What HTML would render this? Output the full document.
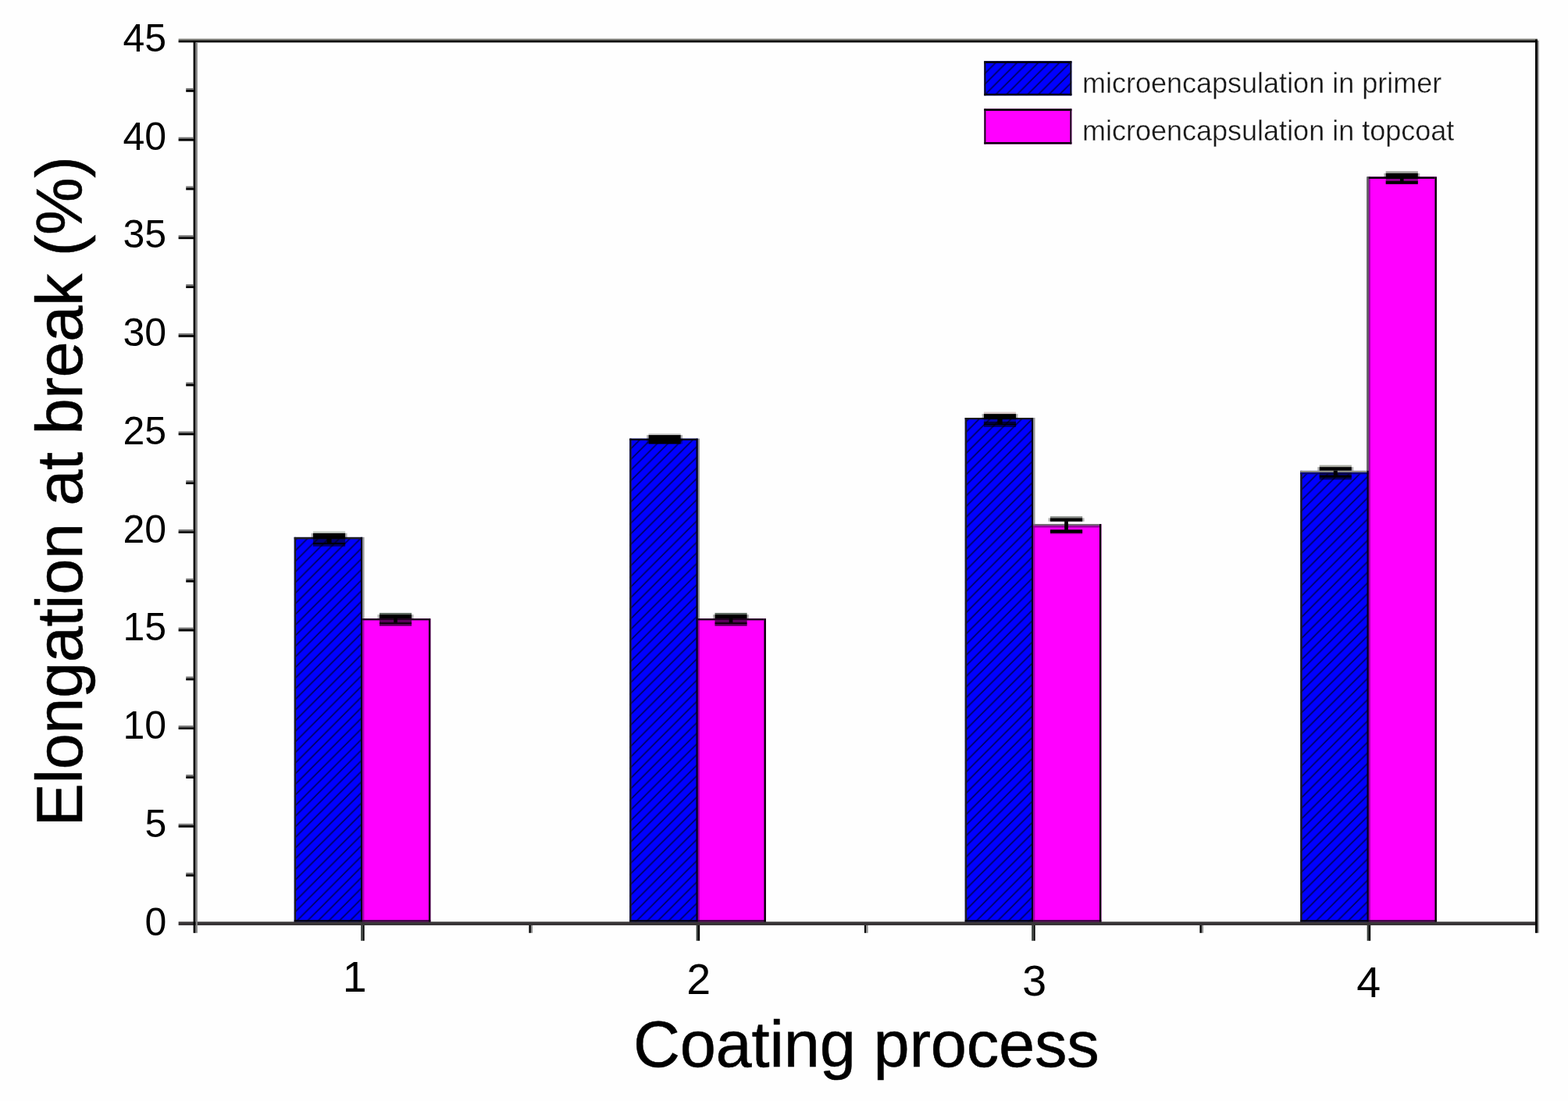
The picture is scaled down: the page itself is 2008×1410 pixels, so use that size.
<!DOCTYPE html>
<html lang="en"><head><meta charset="utf-8"><title>Elongation at break vs coating process</title>
<style>
html,body{margin:0;padding:0;background:#fefefe;}
body{width:2008px;height:1410px;overflow:hidden;}
svg{display:block;font-family:"Liberation Sans",sans-serif;}
.tk{font-size:50px;fill:#000;}
.xk{font-size:55.5px;fill:#000;}
.lg{font-size:36px;fill:#181818;stroke:#fefefe;stroke-width:0.35px;paint-order:fill stroke;}
.ti{font-size:83px;fill:#000;letter-spacing:-0.4px;stroke:#000;stroke-width:0.5px;}
</style></head><body>
<svg width="2008" height="1410" viewBox="0 0 2008 1410" style="filter:blur(0.45px)">
<defs>
<pattern id="hatch" patternUnits="userSpaceOnUse" x="0" y="0" width="13.6" height="13.6">
<rect width="13.6" height="13.6" fill="#0000ff"/>
<path d="M-3,12 L12,-3 M6,16.6 L16.6,6" stroke="#000028" stroke-opacity="0.75" stroke-width="1.7" fill="none"/>
</pattern>
</defs>
<rect width="2008" height="1410" fill="#fefefe"/>

<g id="bars">
<rect x="376.75" y="687.90" width="87.50" height="494.90" fill="url(#hatch)"/>
<rect x="464.25" y="792.10" width="87.10" height="390.70" fill="#ff00ff"/>
<rect x="376.75" y="687.90" width="2.40" height="494.90" fill="#1c1c1c"/>
<rect x="376.75" y="687.90" width="87.50" height="2.60" fill="#222"/>
<rect x="461.95" y="687.90" width="2.40" height="494.90" fill="#00001c"/>
<rect x="464.35" y="687.90" width="2.20" height="104.20" fill="#9a9a9a"/>
<rect x="464.35" y="792.10" width="2.00" height="390.70" fill="#a000a8"/>
<rect x="376.75" y="1178.20" width="87.50" height="2.40" fill="#00000c"/>
<rect x="464.25" y="1178.20" width="87.10" height="2.40" fill="#3a0040"/>
<rect x="464.25" y="792.10" width="84.70" height="2.30" fill="#1a001a"/>
<rect x="548.95" y="792.10" width="2.40" height="390.70" fill="#000"/>
<rect x="806.25" y="561.70" width="87.50" height="621.10" fill="url(#hatch)"/>
<rect x="893.75" y="792.10" width="87.10" height="390.70" fill="#ff00ff"/>
<rect x="806.25" y="561.70" width="2.40" height="621.10" fill="#1c1c1c"/>
<rect x="806.25" y="561.70" width="87.50" height="2.30" fill="#050505"/>
<rect x="891.45" y="561.70" width="2.40" height="621.10" fill="#00001c"/>
<rect x="893.85" y="561.70" width="2.20" height="230.40" fill="#9a9a9a"/>
<rect x="893.85" y="792.10" width="2.00" height="390.70" fill="#a000a8"/>
<rect x="806.25" y="1178.20" width="87.50" height="2.40" fill="#00000c"/>
<rect x="893.75" y="1178.20" width="87.10" height="2.40" fill="#3a0040"/>
<rect x="893.75" y="792.10" width="84.70" height="2.30" fill="#1a001a"/>
<rect x="978.45" y="792.10" width="2.40" height="390.70" fill="#000"/>
<rect x="1235.75" y="535.00" width="87.50" height="647.80" fill="url(#hatch)"/>
<rect x="1323.25" y="671.10" width="87.10" height="511.70" fill="#ff00ff"/>
<rect x="1235.75" y="535.00" width="2.40" height="647.80" fill="#1c1c1c"/>
<rect x="1235.75" y="535.00" width="87.50" height="2.20" fill="#1a1a10"/>
<rect x="1320.95" y="535.00" width="2.40" height="647.80" fill="#00001c"/>
<rect x="1323.35" y="535.00" width="2.20" height="136.10" fill="#9a9a9a"/>
<rect x="1323.35" y="671.10" width="2.00" height="511.70" fill="#a000a8"/>
<rect x="1235.75" y="1178.20" width="87.50" height="2.40" fill="#00000c"/>
<rect x="1323.25" y="1178.20" width="87.10" height="2.40" fill="#3a0040"/>
<rect x="1323.25" y="671.10" width="84.70" height="2.10" fill="#6f736f"/>
<rect x="1323.25" y="673.20" width="84.70" height="2.30" fill="#8c0094"/>
<rect x="1407.95" y="671.10" width="2.40" height="511.70" fill="#000"/>
<rect x="1665.25" y="602.90" width="87.50" height="579.90" fill="url(#hatch)"/>
<rect x="1752.75" y="226.40" width="87.10" height="956.40" fill="#ff00ff"/>
<rect x="1665.25" y="602.90" width="2.40" height="579.90" fill="#1c1c1c"/>
<rect x="1665.25" y="602.90" width="87.50" height="2.20" fill="#8a8c84"/>
<rect x="1665.25" y="605.10" width="87.50" height="2.20" fill="#000078"/>
<rect x="1750.45" y="226.40" width="2.40" height="956.40" fill="#00001c"/>
<rect x="1750.45" y="226.40" width="2.40" height="376.50" fill="#666"/>
<rect x="1752.85" y="226.40" width="2.00" height="956.40" fill="#a000a8"/>
<rect x="1665.25" y="1178.20" width="87.50" height="2.40" fill="#00000c"/>
<rect x="1752.75" y="1178.20" width="87.10" height="2.40" fill="#3a0040"/>
<rect x="1752.75" y="226.40" width="84.70" height="2.50" fill="#000"/>
<rect x="1837.45" y="226.40" width="2.40" height="956.40" fill="#000"/>
</g>
<g id="errorbars">
<rect x="400.95" y="680.30" width="41.20" height="2.50" fill="#c8d0c8"/>
<rect x="400.95" y="682.80" width="41.20" height="7.40" fill="#000"/>
<rect x="400.95" y="690.20" width="41.20" height="4.80" fill="#000" fill-opacity="0.55"/>
<rect x="400.95" y="695.00" width="41.20" height="2.40" fill="#000"/>
<rect x="400.95" y="697.40" width="41.20" height="2.40" fill="#000" fill-opacity="0.6"/>
<rect x="398.55" y="682.80" width="2.40" height="7.40" fill="#000" fill-opacity="0.3"/>
<rect x="442.15" y="682.80" width="2.40" height="7.40" fill="#000" fill-opacity="0.3"/>
<rect x="418.55" y="690.00" width="6.00" height="5.50" fill="#000"/>
<rect x="485.95" y="784.90" width="41.20" height="2.20" fill="#5c6a60"/>
<rect x="485.95" y="787.10" width="41.20" height="5.10" fill="#000"/>
<rect x="485.95" y="794.40" width="41.20" height="2.70" fill="#000" fill-opacity="0.65"/>
<rect x="485.95" y="797.10" width="41.20" height="2.20" fill="#000"/>
<rect x="485.95" y="799.30" width="41.20" height="2.30" fill="#000" fill-opacity="0.7"/>
<rect x="483.55" y="787.10" width="2.40" height="5.10" fill="#000" fill-opacity="0.3"/>
<rect x="527.15" y="787.10" width="2.40" height="5.10" fill="#000" fill-opacity="0.3"/>
<rect x="504.25" y="792.00" width="4.60" height="5.50" fill="#000"/>
<rect x="830.55" y="555.00" width="41.20" height="2.10" fill="#d0d0d0"/>
<rect x="830.55" y="557.10" width="41.20" height="11.50" fill="#000"/>
<rect x="828.15" y="557.10" width="2.40" height="11.50" fill="#000" fill-opacity="0.3"/>
<rect x="871.75" y="557.10" width="2.40" height="11.50" fill="#000" fill-opacity="0.3"/>
<rect x="915.45" y="784.90" width="41.20" height="2.20" fill="#5c6a60"/>
<rect x="915.45" y="787.10" width="41.20" height="5.10" fill="#000"/>
<rect x="915.45" y="794.40" width="41.20" height="2.70" fill="#000" fill-opacity="0.65"/>
<rect x="915.45" y="797.10" width="41.20" height="2.20" fill="#000"/>
<rect x="915.45" y="799.30" width="41.20" height="2.30" fill="#000" fill-opacity="0.7"/>
<rect x="913.05" y="787.10" width="2.40" height="5.10" fill="#000" fill-opacity="0.3"/>
<rect x="956.65" y="787.10" width="2.40" height="5.10" fill="#000" fill-opacity="0.3"/>
<rect x="933.75" y="792.00" width="4.60" height="5.50" fill="#000"/>
<rect x="1259.90" y="527.60" width="41.20" height="2.50" fill="#d8c8c8"/>
<rect x="1259.90" y="530.10" width="41.20" height="6.90" fill="#000"/>
<rect x="1259.90" y="537.40" width="41.20" height="2.60" fill="#000" fill-opacity="0.3"/>
<rect x="1259.90" y="540.00" width="41.20" height="2.30" fill="#000" fill-opacity="0.75"/>
<rect x="1259.90" y="542.30" width="41.20" height="2.10" fill="#000"/>
<rect x="1259.90" y="544.40" width="41.20" height="2.40" fill="#000" fill-opacity="0.65"/>
<rect x="1257.50" y="530.10" width="2.40" height="6.90" fill="#000" fill-opacity="0.3"/>
<rect x="1301.10" y="530.10" width="2.40" height="6.90" fill="#000" fill-opacity="0.3"/>
<rect x="1277.40" y="537.00" width="6.20" height="6.00" fill="#000"/>
<rect x="1344.95" y="661.20" width="41.20" height="2.20" fill="#8a8f8a"/>
<rect x="1344.95" y="663.40" width="41.20" height="4.50" fill="#000"/>
<rect x="1344.95" y="678.30" width="41.20" height="4.50" fill="#000"/>
<rect x="1344.95" y="682.80" width="41.20" height="1.40" fill="#000" fill-opacity="0.25"/>
<rect x="1342.55" y="663.40" width="2.40" height="4.50" fill="#000" fill-opacity="0.3"/>
<rect x="1386.15" y="663.40" width="2.40" height="4.50" fill="#000" fill-opacity="0.3"/>
<rect x="1363.15" y="667.50" width="4.80" height="11.30" fill="#000"/>
<rect x="1689.65" y="595.60" width="41.20" height="2.50" fill="#a8aaa0"/>
<rect x="1689.65" y="598.10" width="41.20" height="4.60" fill="#000"/>
<rect x="1689.65" y="605.20" width="41.20" height="3.10" fill="#000" fill-opacity="0.45"/>
<rect x="1689.65" y="608.30" width="41.20" height="3.50" fill="#000"/>
<rect x="1689.65" y="611.80" width="41.20" height="2.50" fill="#000" fill-opacity="0.6"/>
<rect x="1687.25" y="598.10" width="2.40" height="4.60" fill="#000" fill-opacity="0.3"/>
<rect x="1730.85" y="598.10" width="2.40" height="4.60" fill="#000" fill-opacity="0.3"/>
<rect x="1707.75" y="602.50" width="5.00" height="6.30" fill="#000"/>
<rect x="1774.65" y="219.30" width="41.20" height="2.60" fill="#9a9e98"/>
<rect x="1774.65" y="221.90" width="41.20" height="7.00" fill="#000"/>
<rect x="1774.65" y="228.90" width="41.20" height="2.70" fill="#000" fill-opacity="0.45"/>
<rect x="1774.65" y="231.60" width="41.20" height="4.20" fill="#000"/>
<rect x="1772.25" y="221.90" width="2.40" height="7.00" fill="#000" fill-opacity="0.3"/>
<rect x="1815.85" y="221.90" width="2.40" height="7.00" fill="#000" fill-opacity="0.3"/>
<rect x="1792.95" y="228.00" width="4.60" height="4.00" fill="#000"/>
</g>
<g id="axes">
<rect x="228.60" y="49.60" width="1740.30" height="2.40" fill="#7c7c76"/>
<rect x="228.60" y="51.80" width="1740.30" height="2.60" fill="#000"/>
<rect x="228.60" y="1180.40" width="1740.30" height="4.60" fill="#383436"/>
<rect x="247.60" y="52.00" width="3.00" height="1142.80" fill="#000"/>
<rect x="250.60" y="54.30" width="2.30" height="1140.50" fill="#858585"/>
<rect x="1966.00" y="50.50" width="3.00" height="1144.30" fill="#000"/>
<rect x="1969.00" y="52.00" width="1.80" height="1142.80" fill="#959595"/>
<rect x="228.60" y="1054.81" width="19.40" height="2.40" fill="#767676"/>
<rect x="228.60" y="1057.01" width="19.40" height="2.70" fill="#000"/>
<rect x="228.60" y="929.22" width="19.40" height="2.40" fill="#767676"/>
<rect x="228.60" y="931.42" width="19.40" height="2.70" fill="#000"/>
<rect x="228.60" y="803.63" width="19.40" height="2.40" fill="#767676"/>
<rect x="228.60" y="805.83" width="19.40" height="2.70" fill="#000"/>
<rect x="228.60" y="678.04" width="19.40" height="2.40" fill="#767676"/>
<rect x="228.60" y="680.24" width="19.40" height="2.70" fill="#000"/>
<rect x="228.60" y="552.46" width="19.40" height="2.40" fill="#767676"/>
<rect x="228.60" y="554.66" width="19.40" height="2.70" fill="#000"/>
<rect x="228.60" y="426.87" width="19.40" height="2.40" fill="#767676"/>
<rect x="228.60" y="429.07" width="19.40" height="2.70" fill="#000"/>
<rect x="228.60" y="301.28" width="19.40" height="2.40" fill="#767676"/>
<rect x="228.60" y="303.48" width="19.40" height="2.70" fill="#000"/>
<rect x="228.60" y="175.69" width="19.40" height="2.40" fill="#767676"/>
<rect x="228.60" y="177.89" width="19.40" height="2.70" fill="#000"/>
<rect x="238.20" y="1117.61" width="9.80" height="2.40" fill="#767676"/>
<rect x="238.20" y="1119.81" width="9.80" height="2.70" fill="#000"/>
<rect x="238.20" y="992.02" width="9.80" height="2.40" fill="#767676"/>
<rect x="238.20" y="994.22" width="9.80" height="2.70" fill="#000"/>
<rect x="238.20" y="866.43" width="9.80" height="2.40" fill="#767676"/>
<rect x="238.20" y="868.63" width="9.80" height="2.70" fill="#000"/>
<rect x="238.20" y="740.84" width="9.80" height="2.40" fill="#767676"/>
<rect x="238.20" y="743.04" width="9.80" height="2.70" fill="#000"/>
<rect x="238.20" y="615.25" width="9.80" height="2.40" fill="#767676"/>
<rect x="238.20" y="617.45" width="9.80" height="2.70" fill="#000"/>
<rect x="238.20" y="489.66" width="9.80" height="2.40" fill="#767676"/>
<rect x="238.20" y="491.86" width="9.80" height="2.70" fill="#000"/>
<rect x="238.20" y="364.07" width="9.80" height="2.40" fill="#767676"/>
<rect x="238.20" y="366.27" width="9.80" height="2.70" fill="#000"/>
<rect x="238.20" y="238.48" width="9.80" height="2.40" fill="#767676"/>
<rect x="238.20" y="240.68" width="9.80" height="2.70" fill="#000"/>
<rect x="238.20" y="112.89" width="9.80" height="2.40" fill="#767676"/>
<rect x="238.20" y="115.09" width="9.80" height="2.70" fill="#000"/>
<rect x="462.15" y="1185.00" width="2.40" height="19.80" fill="#3a403c"/>
<rect x="464.55" y="1185.00" width="2.10" height="19.80" fill="#000"/>
<rect x="891.65" y="1185.00" width="2.40" height="19.80" fill="#3a403c"/>
<rect x="894.05" y="1185.00" width="2.10" height="19.80" fill="#000"/>
<rect x="1321.15" y="1185.00" width="2.40" height="19.80" fill="#3a403c"/>
<rect x="1323.55" y="1185.00" width="2.10" height="19.80" fill="#000"/>
<rect x="1750.65" y="1185.00" width="2.40" height="19.80" fill="#3a403c"/>
<rect x="1753.05" y="1185.00" width="2.10" height="19.80" fill="#000"/>
<rect x="677.40" y="1185.00" width="2.50" height="9.80" fill="#000"/>
<rect x="679.90" y="1185.00" width="2.20" height="9.80" fill="#909090"/>
<rect x="1106.90" y="1185.00" width="2.50" height="9.80" fill="#000"/>
<rect x="1109.40" y="1185.00" width="2.20" height="9.80" fill="#909090"/>
<rect x="1536.40" y="1185.00" width="2.50" height="9.80" fill="#000"/>
<rect x="1538.90" y="1185.00" width="2.20" height="9.80" fill="#909090"/>
</g>
<g class="tk" text-anchor="end">
<text x="213.2" y="1197.5">0</text>
<text x="213.2" y="1071.8">5</text>
<text x="213.2" y="946.1">10</text>
<text x="213.2" y="820.3">15</text>
<text x="213.2" y="694.6">20</text>
<text x="213.2" y="568.9">25</text>
<text x="213.2" y="443.1">30</text>
<text x="213.2" y="317.4">35</text>
<text x="213.2" y="191.6">40</text>
<text x="213.2" y="65.9">45</text>
</g>
<g class="xk" text-anchor="middle">
<text x="454.3" y="1270">1</text>
<text x="894.7" y="1272.6">2</text>
<text x="1324.7" y="1274.7">3</text>
<text x="1752.7" y="1277">4</text>
</g>
<text class="ti" x="1109.3" y="1365.8" text-anchor="middle" style="letter-spacing:-0.2px">Coating process</text>
<text class="ti" transform="translate(105.1,629.5) rotate(-90)" text-anchor="middle">Elongation at break (%)</text>
<g id="legend">
<rect x="1260.30" y="78.30" width="112.10" height="44.00" fill="url(#hatch)"/>
<rect x="1260.30" y="78.30" width="112.10" height="2.60" fill="#000"/>
<rect x="1260.30" y="119.90" width="112.10" height="2.40" fill="#000"/>
<rect x="1260.40" y="78.30" width="2.00" height="44.00" fill="#101010"/>
<rect x="1370.30" y="78.30" width="2.00" height="44.00" fill="#101010"/>
<rect x="1260.30" y="139.30" width="112.10" height="45.20" fill="#ff00ff"/>
<rect x="1260.30" y="139.30" width="112.10" height="2.60" fill="#000"/>
<rect x="1260.30" y="182.10" width="112.10" height="2.40" fill="#000"/>
<rect x="1260.40" y="139.30" width="2.00" height="45.20" fill="#101010"/>
<rect x="1370.30" y="139.30" width="2.00" height="45.20" fill="#101010"/>
<text class="lg" x="1386" y="119">microencapsulation in primer</text>
<text class="lg" x="1386" y="180">microencapsulation in topcoat</text>
</g>
</svg></body></html>
